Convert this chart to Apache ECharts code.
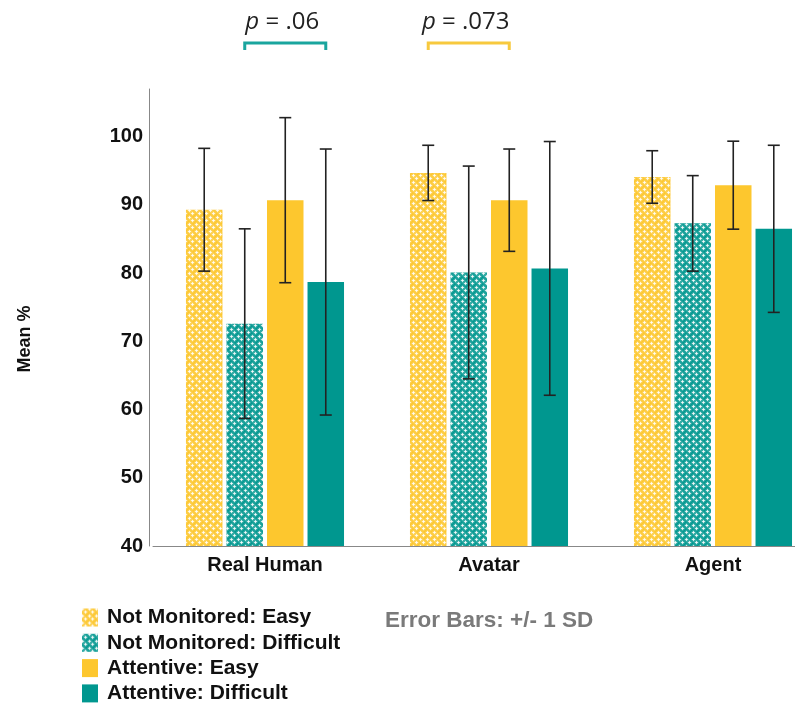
<!DOCTYPE html>
<html><head><meta charset="utf-8">
<script src="https://cdn.jsdelivr.net/npm/echarts@6/dist/echarts.min.js"></script>
<style>html,body{margin:0;padding:0;background:#fff}#c{width:795px;height:704px}</style>
</head><body><div id="c"></div>
<script>
// ---- data ----
const categories = ['Real Human', 'Avatar', 'Agent'];
const seriesNames = ['Not Monitored: Easy', 'Not Monitored: Difficult', 'Attentive: Easy', 'Attentive: Difficult'];
const nmEasyMean = [89.3, 94.7, 94.1];
const nmEasySD   = [9.0, 4.05, 3.85];
const nmDiffMean = [72.6, 80.1, 87.3];
const nmDiffSD   = [13.9, 15.6, 7.0];
const attEasyMean = [90.7, 90.7, 92.9];
const attEasySD   = [12.1, 7.5, 6.45];
const attDiffMean = [78.7, 80.7, 86.5];
const attDiffSD   = [19.5, 18.6, 12.25];
const yTicks = [40, 50, 60, 70, 80, 90, 100];
const pNoteCategory = [0, 1];
const pNoteFrom = [1, 0];
const pNoteTo = [3, 2];
const pNoteText = ['.06', '.073'];
const errorNote = 'Error Bars: +/- 1 SD';
const yTitle = 'Mean %';

// ---- styling ----
const YELLOW = '#FDC72E';
const TEAL = '#00978F';
const BAR_W = 36.5;
const GAP = 0.11;
const STEP = BAR_W * (1 + GAP);
const FONT = '"Liberation Sans", Arial, sans-serif';

function makePattern(base) {
  const s = 7, c = document.createElement('canvas');
  c.width = s; c.height = s;
  const g = c.getContext('2d');
  g.fillStyle = base; g.fillRect(0, 0, s, s);
  const centers = [[3, 3], [0, 0], [7, 0], [0, 7], [7, 7]];
  g.fillStyle = 'rgba(255,255,255,0.22)';
  centers.forEach(([cx, cy]) => {
    const x = cx + 0.5, y = cy + 0.5;
    g.beginPath(); g.moveTo(x, y - 3); g.lineTo(x + 3, y); g.lineTo(x, y + 3); g.lineTo(x - 3, y); g.closePath(); g.fill();
  });
  g.fillStyle = 'rgba(255,255,255,0.75)';
  centers.forEach(([cx, cy]) => {
    g.fillRect(cx, cy - 1, 1, 3); g.fillRect(cx - 1, cy, 3, 1);
  });
  return { image: c, repeat: 'repeat' };
}

const means = [nmEasyMean, nmDiffMean, attEasyMean, attDiffMean];
const sds = [nmEasySD, nmDiffSD, attEasySD, attDiffSD];
const baseColors = [YELLOW, TEAL, YELLOW, TEAL];
const noteColors = { [YELLOW]: '#F7C93E', [TEAL]: '#1AA59E' };
const fills = [makePattern(YELLOW), makePattern(TEAL), YELLOW, TEAL];

const series = [];
seriesNames.forEach((name, k) => {
  series.push({
    name, type: 'bar', data: means[k], barWidth: BAR_W, barGap: (GAP * 100) + '%',
    itemStyle: { color: fills[k] }, z: 2, silent: true
  });
});
seriesNames.forEach((name, k) => {
  series.push({
    name: 'err' + k, type: 'custom', z: 5, silent: true, clip: false,
    data: means[k].map((m, i) => [i, m - sds[k][i], m + sds[k][i]]),
    encode: { x: 0, y: [1, 2] },
    renderItem: function (params, api) {
      const i = api.value(0);
      const lo = api.coord([i, api.value(1)]);
      const hi = api.coord([i, api.value(2)]);
      const x = lo[0] + (k - 1.5) * STEP;
      const hw = 6;
      const st = { stroke: '#222', lineWidth: 1.6 };
      return { type: 'group', children: [
        { type: 'line', shape: { x1: x, y1: hi[1], x2: x, y2: lo[1] }, style: st },
        { type: 'line', shape: { x1: x - hw, y1: hi[1], x2: x + hw, y2: hi[1] }, style: st },
        { type: 'line', shape: { x1: x - hw, y1: lo[1], x2: x + hw, y2: lo[1] }, style: st }
      ]};
    }
  });
});
series.push({
  name: 'pnotes', type: 'custom', z: 5, silent: true, clip: false,
  data: pNoteCategory.map((c, j) => [c, 107, pNoteFrom[j], pNoteTo[j], j]),
  encode: { x: 0, y: 1 },
  renderItem: function (params, api) {
    const c = api.value(0);
    const p = api.coord([c, api.value(1)]);
    const a = api.value(2), b = api.value(3), j = api.value(4);
    const x1 = p[0] + (a - 1.5) * STEP, x2 = p[0] + (b - 1.5) * STEP;
    const yTop = p[1] - 46, yEnd = p[1] - 39;
    const col = noteColors[baseColors[a]];
    const st = { stroke: col, lineWidth: 3, fill: null };
    return { type: 'group', children: [
      { type: 'polyline', shape: { points: [[x1, yEnd], [x1, yTop], [x2, yTop], [x2, yEnd]] }, style: st },
      { type: 'text', x: (x1 + x2) / 2 - 3, y: p[1] - 67, style: {
        text: '{i|p} = ' + pNoteText[j], fill: '#222', fontSize: 24, fontFamily: '"Open Sans", sans-serif',
        align: 'center', verticalAlign: 'middle',
        rich: { i: { fontStyle: 'italic', fontSize: 24, fontFamily: '"Open Sans", sans-serif', fill: '#222' } }
      } }
    ]};
  }
});

const chart = echarts.init(document.getElementById('c'), null, { renderer: 'canvas' });
chart.setOption({
  animation: false,
  backgroundColor: '#fff',
  grid: { left: 153, right: -30, top: 89, bottom: 158, containLabel: false, outerBoundsMode: 'none' },
  xAxis: {
    type: 'category', data: categories,
    axisLine: { show: true, lineStyle: { color: '#888', width: 1 } },
    axisTick: { show: false },
    axisLabel: { margin: 9, fontSize: 20, fontWeight: 'bold', fontFamily: FONT, color: '#111' },
    splitLine: { show: false }
  },
  yAxis: {
    type: 'value', min: 40, max: 107, interval: 10, offset: 4,
    axisLine: { show: true, lineStyle: { color: '#888', width: 1 } },
    axisTick: { show: false },
    splitLine: { show: false },
    axisLabel: {
      margin: 6, fontSize: 20, fontWeight: 'bold', fontFamily: FONT, color: '#111',
      formatter: v => (yTicks.indexOf(v) >= 0 ? String(v) : '')
    }
  },
  legend: {
    data: seriesNames, orient: 'vertical', left: 82, top: 607, height: 130, padding: 0,
    itemWidth: 16, itemHeight: 18, itemGap: 4.3, icon: 'rect',
    textStyle: { fontSize: 21, fontWeight: 'bold', fontFamily: FONT, color: '#111', lineHeight: 21, padding: [0, 0, 0, 4] },
    selectedMode: false
  },
  graphic: [
    { type: 'text', x: 25, y: 339, rotation: Math.PI / 2, style: {
      text: yTitle, font: 'bold 18px ' + FONT, fill: '#111', align: 'center', verticalAlign: 'middle' } },
    { type: 'text', left: 385, top: 609, style: {
      text: errorNote, font: 'bold 22.5px ' + FONT, fill: '#7a7a7a' } }
  ],
  series
});
</script>
</body></html>
